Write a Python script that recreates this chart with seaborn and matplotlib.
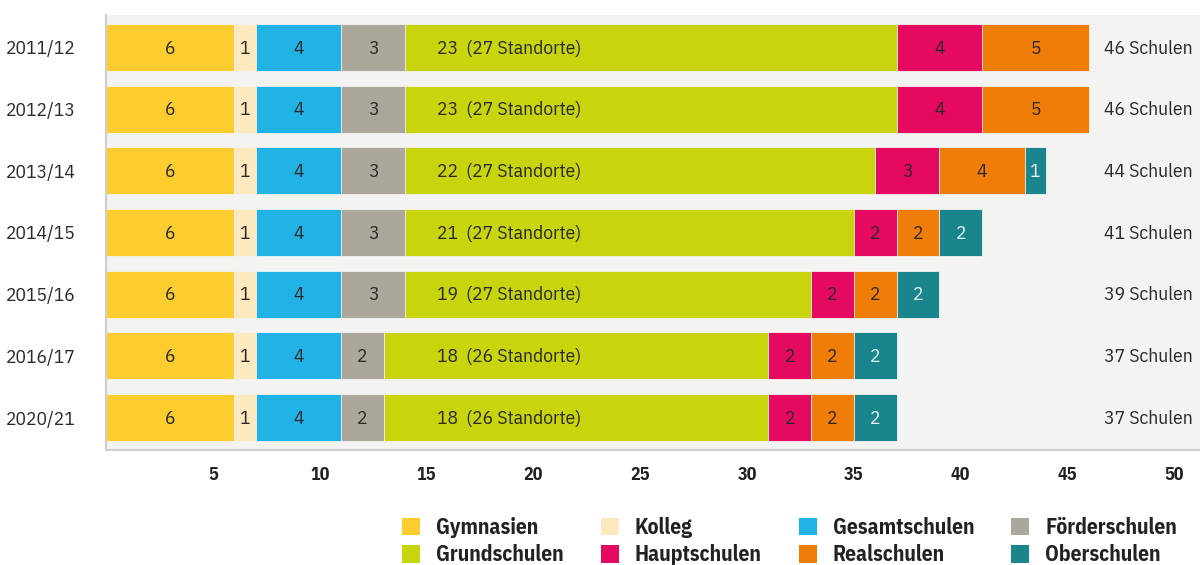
import matplotlib
matplotlib.use("Agg")
import matplotlib.pyplot as plt
from matplotlib.patches import Patch
from matplotlib.ticker import FixedLocator
import numpy as np
import pandas as pd
import seaborn as sns

years = ["2011/12", "2012/13", "2013/14", "2014/15", "2015/16", "2016/17", "2020/21"]
categories = ["Gymnasien", "Kolleg", "Gesamtschulen", "Förderschulen",
              "Grundschulen", "Hauptschulen", "Realschulen", "Oberschulen"]
gymnasien = [6, 6, 6, 6, 6, 6, 6]
kolleg = [1, 1, 1, 1, 1, 1, 1]
gesamtschulen = [4, 4, 4, 4, 4, 4, 4]
foerderschulen = [3, 3, 3, 3, 3, 2, 2]
grundschulen = [23, 23, 22, 21, 19, 18, 18]
hauptschulen = [4, 4, 3, 2, 2, 2, 2]
realschulen = [5, 5, 4, 2, 2, 2, 2]
oberschulen = [0, 0, 1, 2, 2, 2, 2]
standorte = [27, 27, 27, 27, 27, 26, 26]
x_ticks = [0, 5, 10, 15, 20, 25, 30, 35, 40, 45, 50]
x_tick_labels = ["", "5", "10", "15", "20", "25", "30", "35", "40", "45", "50"]

colors = ["#fdcd2f", "#fde9bd", "#22b3e6", "#aba79b",
          "#c8d40c", "#e50a5f", "#f07d08", "#1a858c"]
label_colors = ["#2a2a2a"] * 7 + ["#e6f2f2"]

series = [gymnasien, kolleg, gesamtschulen, foerderschulen,
          grundschulen, hauptschulen, realschulen, oberschulen]
df = pd.DataFrame({c: v for c, v in zip(categories, series)})
df["Jahr"] = years
cum = df[categories].cumsum(axis=1)
totals = cum[categories[-1]].values

sns.set_style("white")
FONT = ["IBM Plex Sans Condensed", "DejaVu Sans"]
plt.rcParams["font.family"] = FONT

fig = plt.figure(figsize=(12, 5.65), dpi=100)
ax = fig.add_axes([0.0885, 0.204, 0.9115, 0.769])
ax.set_facecolor("#f3f3f2")

for i in range(len(categories) - 1, -1, -1):
    c = categories[i]
    sns.barplot(x=cum[c].values, y=years, orient="h", color=colors[i],
                width=0.76, ax=ax, edgecolor="#f3f3f2", linewidth=0.6,
                saturation=1)

for r in range(len(years)):
    start = 0
    for i, c in enumerate(categories):
        v = series[i][r]
        if v > 0:
            if c == "Grundschulen":
                ax.text(15.5, r + 0.02, f"{v}  ({standorte[r]} Standorte)",
                        ha="left", va="center", fontsize=14, color="#2a2a2a")
            else:
                ax.text(start + v / 2, r + 0.02, str(v), ha="center", va="center",
                        fontsize=14, color=label_colors[i])
        start += v
    ax.text(46.7, r + 0.02, f"{totals[r]} Schulen", ha="left", va="center",
            fontsize=14, color="#2a2a2a")

ax.set_xlim(0, 51.2)
ax.set_ylim(6.52, -0.52)
ax.set_xticks(x_ticks)
ax.set_xticklabels(x_tick_labels, fontsize=13, fontweight="bold", color="#222222")
ax.set_xlabel("")
ax.set_ylabel("")
ax.tick_params(axis="y", which="major", length=0, pad=22, labelsize=14,
               labelcolor="#2a2a2a")
ax.yaxis.set_minor_locator(FixedLocator(np.arange(-0.5, len(years), 1.0)))
ax.tick_params(axis="y", which="minor", length=5, width=1.2, color="#c8c8c8",
               direction="out")
ax.tick_params(axis="x", which="major", length=6, width=1.2, color="#c8c8c8",
               pad=6, direction="out")
for s in ["top", "right"]:
    ax.spines[s].set_visible(False)
for s in ["left", "bottom"]:
    ax.spines[s].set_color("#cfcfcf")
    ax.spines[s].set_linewidth(1.5)

order = [0, 4, 1, 5, 2, 6, 3, 7]
handles = [Patch(facecolor=colors[i], edgecolor="none", label=categories[i]) for i in order]
leg = fig.legend(handles=handles, ncol=4, loc="center left",
                 bbox_to_anchor=(0.335, 0.042), bbox_transform=fig.transFigure,
                 frameon=False, borderpad=0, borderaxespad=0,
                 prop={"family": FONT, "weight": "bold", "size": 15.5},
                 handlelength=0.84, handleheight=0.85, handletextpad=0.74,
                 columnspacing=1.72, labelspacing=0.3)
for t in leg.get_texts():
    t.set_color("#222222")

fig.savefig("out.png", dpi=100)
